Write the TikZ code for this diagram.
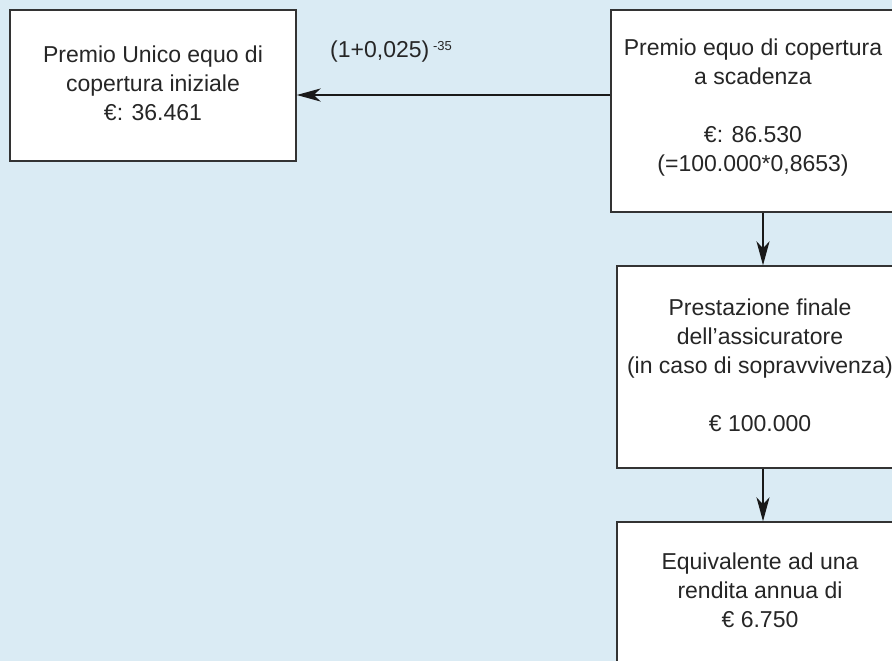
\documentclass[tikz,border=0pt]{standalone}
\usepackage{fontspec}
\setmainfont{Liberation Sans}
\usetikzlibrary{arrows.meta}
\definecolor{bgblue}{HTML}{DAEBF4}
\definecolor{edge}{HTML}{333333}
\tikzset{
  box/.style={draw=edge, line width=1.3pt, fill=white, inner sep=0pt},
  txt/.style={align=center, font=\fontsize{23}{29}\selectfont, text=black!85, inner sep=0pt},
  arr/.style={draw=black!90, line width=2.5pt, -{Stealth[length=24pt,width=13pt,inset=7pt]}}
}
\begin{document}
\begin{tikzpicture}[x=1pt,y=-1pt]
\useasboundingbox (0,0) rectangle (892,661);
\clip (0,0) rectangle (892,661);
\fill[bgblue] (0,0) rectangle (892,661);

\node[box, minimum width=286pt, minimum height=151pt] (A) at (153,85.5) {};
\node[txt] (At) at (153,83) {Premio Unico equo di\\copertura iniziale\\€: 36.461};

\node[box, minimum width=284pt, minimum height=202pt] (B) at (753,111) {};
\node[txt] (Bt) at (753,108) {Premio equo di copertura\\a scadenza\\[29pt]€: 86.530\\(=100.000*0,8653)};

\node[box, minimum width=286pt, minimum height=202pt] (C) at (760,367) {};
\node[txt] (Ct) at (760,365) {Prestazione finale\\dell'assicuratore\\(in caso di sopravvivenza)\\[29pt]€ 100.000};

\node[box, minimum width=286pt, minimum height=202pt] (D) at (760,623) {};
\node[txt] (Dt) at (760,590) {Equivalente ad una\\rendita annua di\\€ 6.750};

\node[txt, anchor=base west] (L) at (330,58) {(1+0,025)\,\raisebox{7pt}{\fontsize{13}{13}\selectfont -35}};

\coordinate (ay) at (0,95);
\draw[arr] (B.west |- ay) -- (A.east |- ay);
\draw[arr] ([xshift=3pt]C.north |- B.south) -- ([xshift=3pt]C.north);
\draw[arr] ([xshift=3pt]C.south) -- ([xshift=3pt]D.north);
\end{tikzpicture}
\end{document}
